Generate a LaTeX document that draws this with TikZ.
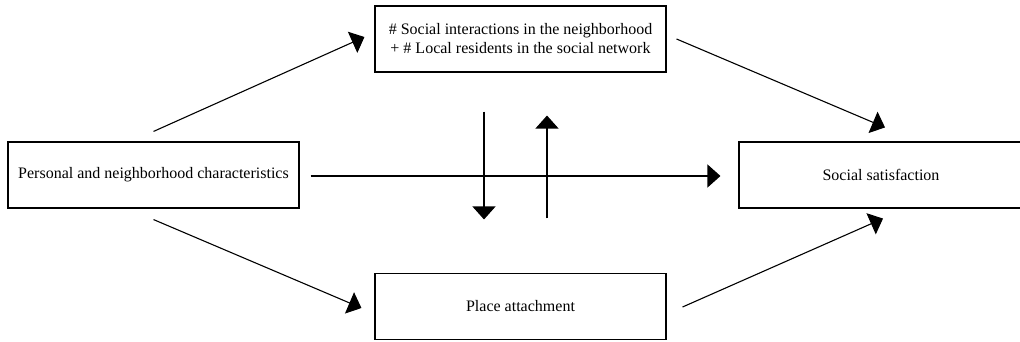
\documentclass[tikz,border=0pt]{standalone}
\usepackage{fontspec}
\setmainfont{Liberation Serif}
\usetikzlibrary{arrows.meta}

\begin{document}
\begin{tikzpicture}[>={Triangle[length=13pt,width=23pt]},x=1pt,y=-1pt,
    box/.style={draw,line width=1.1pt,minimum height=66pt,align=center,inner sep=0pt,
      font=\fontsize{16}{19}\selectfont},
    arr/.style={->,line width=1.1pt}]
  \path[use as bounding box,fill=white] (0,0) rectangle (1020,342);
  \node[box,minimum width=291pt] (soc) at (520.5,39)
    {\# Social interactions in the neighborhood\\+ \# Local residents in the social network};
  \node[box,minimum width=291pt] (pers) at (153.5,175) {Personal and neighborhood characteristics};
  \node[box,minimum width=284pt] (sat) at (881,175) {Social satisfaction};
  \node[box,minimum width=291pt] (place) at (520.5,306.5) {Place attachment};
  \draw[arr] ([shift={(0,-10)}]pers.north) -- ([shift={(-10,-2)}]soc.west);
  \draw[arr] ([shift={(0,11)}]pers.south) -- ([shift={(-13,1.5)}]place.west);
  \draw[arr] ([shift={(11,1)}]pers.east) -- ([shift={(-18,1)}]sat.west);
  \draw[arr] ([shift={(10,0)}]soc.east) -- ([shift={(4,-14)}]sat.north);
  \draw[arr] ([shift={(16,0.5)}]place.east) -- ([shift={(2,10)}]sat.south);
  \draw[arr] ([shift={(-36.5,39)}]soc.south) -- ([shift={(-36.5,-53.5)}]place.north);
  \draw[arr] ([shift={(26.5,-54.5)}]place.north) -- ([shift={(26.5,43)}]soc.south);
\end{tikzpicture}
\end{document}
